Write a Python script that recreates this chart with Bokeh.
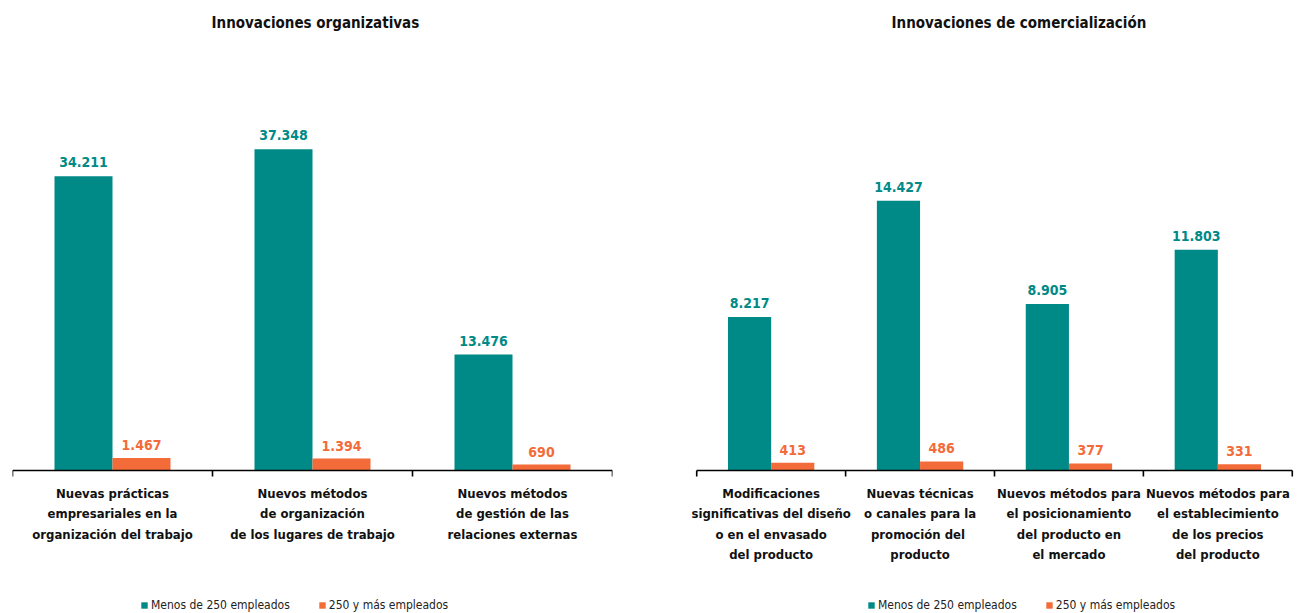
from bokeh.plotting import figure
from bokeh.models import FactorRange, Range1d, Legend, LegendItem, ColumnDataSource
from bokeh.transform import dodge
from bokeh.layouts import row
from bokeh.core.properties import value
from bokeh.embed import file_html
from bokeh.resources import INLINE

# ---------------- data ----------------
org_title = "Innovaciones organizativas"
org_cats = [
    "Nuevas prácticas\nempresariales en la\norganización del trabajo",
    "Nuevos métodos\nde organización\nde los lugares de trabajo",
    "Nuevos métodos\nde gestión de las\nrelaciones externas",
]
org_small = [34211, 37348, 13476]
org_large = [1467, 1394, 690]

com_title = "Innovaciones de comercialización"
com_cats = [
    "Modificaciones\nsignificativas del diseño\no en el envasado\ndel producto",
    "Nuevas técnicas\no canales para la\npromoción  del\nproducto",
    "Nuevos métodos para\nel posicionamiento\ndel producto en\nel mercado",
    "Nuevos métodos para\nel establecimiento\nde los precios\ndel producto",
]
com_small = [8217, 14427, 8905, 11803]
com_large = [413, 486, 377, 331]

series_names = ["Menos de 250 empleados", "250 y más empleados"]

TEAL = "#008A87"
ORANGE = "#F36B39"
FONT = "DejaVu Sans Condensed"

HEIGHT = 613
TOP = 40          # space for the title above the plotting area
ABOVE = 430       # pixels between top of plot area and the baseline
FRAME_H = HEIGHT - TOP


def fmt(v):
    return f"{v:,}".replace(",", ".")


def make_chart(title, cats, small, large, ymax, width, bl, br, pad, title_offset, legend_x):
    ymin = -ymax * (FRAME_H - ABOVE) / ABOVE
    units_per_px = ymax / ABOVE
    p = figure(x_range=FactorRange(*cats, range_padding=pad, range_padding_units="absolute"),
               y_range=Range1d(ymin, ymax),
               width=width, height=HEIGHT, output_backend="svg", toolbar_location=None,
               x_axis_location=None, y_axis_location=None,
               min_border_left=bl, min_border_right=br, min_border_top=TOP,
               min_border_bottom=0)
    p.outline_line_color = None
    p.grid.visible = False
    p.background_fill_color = "white"
    p.border_fill_color = "white"

    p.title.text = title
    p.title.align = "left"
    p.title.offset = title_offset
    p.title.standoff = 17
    p.title.text_font = FONT
    p.title.text_font_size = "15px"
    p.title.text_font_style = "bold"
    p.title.text_color = "#111111"

    src = ColumnDataSource(dict(cat=cats, small=small, large=large,
                                small_lbl=[fmt(v) for v in small],
                                large_lbl=[fmt(v) for v in large]))
    r1 = p.vbar(x=dodge("cat", -0.145, range=p.x_range), top="small", bottom=0,
                width=0.29, source=src, fill_color=TEAL, line_color=None)
    r2 = p.vbar(x=dodge("cat", 0.145, range=p.x_range), top="large", bottom=0,
                width=0.29, source=src, fill_color=ORANGE, line_color=None)
    p.text(x=dodge("cat", -0.145, range=p.x_range), y="small", text="small_lbl",
           source=src, text_align="center", text_baseline="alphabetic", y_offset=-14,
           text_font=value(FONT), text_font_style="bold", text_font_size="14px",
           text_color=TEAL)
    p.text(x=dodge("cat", 0.145, range=p.x_range), y="large", text="large_lbl",
           source=src, text_align="center", text_baseline="alphabetic", y_offset=-13,
           text_font=value(FONT), text_font_style="bold", text_font_size="14px",
           text_color=ORANGE)

    # category axis: baseline, boundary ticks and multi-line labels
    p.segment(x0=[(cats[0], -0.5)], x1=[(cats[-1], 0.5)], y0=[0], y1=[0],
              line_color="black", line_width=1.6)
    edges = [(c, -0.5) for c in cats] + [(cats[-1], 0.5)]
    tick_len = 6 * units_per_px
    p.segment(x0=edges, x1=edges, y0=[0] * len(edges), y1=[-tick_len] * len(edges),
              line_color="black", line_width=1.6)
    p.text(x="cat", y=0, text="cat", source=src, text_align="center", text_baseline="top",
           y_offset=15, text_font=value(FONT), text_font_style="bold",
           text_font_size="13px", text_line_height=1.37, text_color="#111111")

    legend = Legend(items=[LegendItem(label=series_names[0], renderers=[r1]),
                           LegendItem(label=series_names[1], renderers=[r2])],
                    orientation="horizontal", location=(legend_x, 1),
                    glyph_width=8, glyph_height=8, label_standoff=3, spacing=28,
                    padding=0, margin=0, border_line_color=None, background_fill_alpha=0,
                    label_text_font=FONT, label_text_font_size="12px",
                    label_text_color="#222222", label_height=12)
    p.add_layout(legend)
    return p


p1 = make_chart(org_title, org_cats, org_small, org_large, 50000, 650, 12, 38, 0.0, 199, 128)
p2 = make_chart(com_title, com_cats, com_small, com_large, 23000, 647, 41, 0, 0.035, 200, 176)

layout = row(p1, p2, spacing=0)
open("out.html", "w").write(file_html(layout, INLINE))
